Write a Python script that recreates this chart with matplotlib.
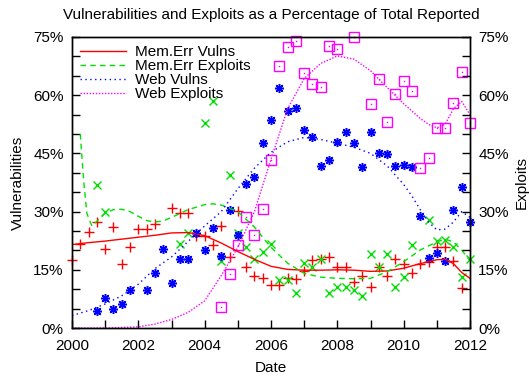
import numpy as np
import matplotlib
matplotlib.use('Agg')
import matplotlib.pyplot as plt
from matplotlib.ticker import MultipleLocator, FuncFormatter

plt.rcParams['font.family'] = ['Liberation Sans', 'DejaVu Sans']
plt.rcParams['font.size'] = 11

# quarterly sample dates (None = no point reported)
quarters = [2000.0, 2000.25, 2000.5, 2000.75, 2001.0, 2001.25, 2001.5, 2001.75,
            2002.0, 2002.25, 2002.5, 2002.75, 2003.0, 2003.25, 2003.5, 2003.75,
            2004.0, 2004.25, 2004.5, 2004.75, 2005.0, 2005.25, 2005.5, 2005.75,
            2006.0, 2006.25, 2006.5, 2006.75, 2007.0, 2007.25, 2007.5, 2007.75,
            2008.0, 2008.25, 2008.5, 2008.75, 2009.0, 2009.25, 2009.5, 2009.75,
            2010.0, 2010.25, 2010.5, 2010.75, 2011.0, 2011.25, 2011.5, 2011.75,
            2012.0]

mem_vulns = [17.4, 21.6, 24.8, 27.4, 20.4, 26.0, 16.5, 21.0,
             25.5, 25.5, 26.8, None, 30.8, 29.7, 29.7, 23.7,
             23.6, 21.4, 26.2, 18.3, 30.1, 15.6, 13.5, 12.9,
             11.1, 11.1, 13.0, 12.7, 14.8, 17.5, 17.7, 18.4,
             15.7, 15.8, 11.9, 13.4, 10.5, 15.8, 13.4, 17.7,
             16.5, 14.3, 16.5, 17.1, 20.8, 20.8, 17.3, 10.2,
             None]

mem_exploits = [None, None, None, 36.9, 29.8, None, None, None,
                None, None, None, None, None, 21.7, 24.4, None,
                52.8, 58.4, 17.3, 39.4, 24.5, 21.0, 17.8, 19.7,
                21.7, 12.5, 12.4, 9.1, 16.8, 15.8, 17.7, 9.1,
                10.5, 10.5, 9.8, 8.2, 19.2, 15.8, 19.2, 10.6,
                13.1, 21.4, None, 27.8, 22.5, 22.7, 20.8, 13.1,
                17.7]

web_vulns = [None, None, None, 4.4, 7.8, 4.9, 6.1, 9.8,
             None, 9.8, 14.3, 20.4, 11.7, 17.9, 17.9, 24.4,
             20.1, 25.7, 18.6, 30.4, 24.0, 37.0, 38.8, 47.6,
             53.6, 61.8, 55.9, 56.6, 51.0, 49.3, 41.8, 43.3,
             47.9, 50.6, 47.6, 41.4, 50.4, 45.1, 44.9, 41.8,
             42.0, 41.6, 28.9, 18.0, 19.4, 17.3, 30.4, 36.4,
             27.2]

web_exploits = [None, None, None, None, None, None, None, None,
                None, None, None, None, None, None, None, None,
                None, None, 5.5, 13.9, 21.4, 28.5, 24.0, 30.6,
                43.3, 67.4, 72.5, 74.0, 65.6, 62.8, 62.2, 72.8,
                71.8, None, 74.9, None, 57.7, 64.2, 53.2, 60.3,
                63.7, 61.2, 41.2, 43.7, 51.6, 51.6, 58.1, 66.1,
                52.8]

# smoothed trend curves
mem_vulns_fit_x = [2000, 2000.5, 2001, 2001.5, 2002, 2002.5, 2003, 2003.5, 2004,
                   2004.5, 2005, 2005.5, 2006, 2006.5, 2007, 2007.5, 2008, 2008.5,
                   2009, 2009.5, 2010, 2010.5, 2011, 2011.25, 2011.5, 2011.75, 2012]
mem_vulns_fit_y = [21.5, 22.0, 22.4, 22.9, 23.4, 23.9, 24.5, 24.6, 23.8,
                   21.9, 19.7, 17.7, 15.9, 15.1, 14.9, 14.9, 15.0, 14.9,
                   14.6, 14.7, 15.4, 16.6, 17.6, 17.7, 16.6, 14.3, 12.8]

mem_exp_fit_x = [2000.25, 2000.35, 2000.45, 2000.6, 2000.75, 2001, 2001.25, 2001.5,
                 2001.75, 2002, 2002.25, 2002.5, 2002.75, 2003, 2003.5, 2004, 2004.25,
                 2004.5, 2005, 2005.5, 2006, 2006.5, 2007, 2007.5, 2008, 2008.5,
                 2009, 2009.5, 2010, 2010.5, 2011, 2011.25, 2011.5, 2011.75, 2012]
mem_exp_fit_y = [50.0, 38.0, 29.5, 26.3, 27.5, 29.6, 30.5, 30.6,
                 30.0, 28.8, 27.7, 27.3, 27.6, 28.5, 30.5, 31.8, 32.0,
                 31.7, 30.0, 26.0, 20.8, 16.7, 14.1, 13.1, 12.8, 12.7,
                 12.8, 14.5, 17.1, 20.1, 22.2, 22.9, 22.2, 20.1, 17.3]

web_vulns_fit_x = [2000, 2000.5, 2001, 2001.5, 2002, 2002.5, 2003, 2003.5, 2004,
                   2004.5, 2005, 2005.5, 2006, 2006.5, 2007, 2007.5, 2008, 2008.5,
                   2009, 2009.5, 2010, 2010.25, 2010.5, 2010.75, 2011, 2011.25,
                   2011.5, 2011.75, 2012]
web_vulns_fit_y = [3.2, 4.5, 6.2, 8.3, 11.3, 15.3, 18.3, 22.3, 26.3,
                   30.0, 35.9, 41.2, 45.3, 48.0, 49.1, 48.6, 47.6, 46.6,
                   45.0, 41.8, 37.0, 34.0, 30.5, 27.3, 25.3, 25.5,
                   27.3, 30.0, 28.5]

web_exp_fit_x = [2000, 2001, 2002, 2002.5, 2003, 2003.5, 2004, 2004.5, 2005,
                 2005.5, 2006, 2006.25, 2006.5, 2007, 2007.5, 2008, 2008.5, 2009,
                 2009.5, 2010, 2010.5, 2010.75, 2011, 2011.25, 2011.5, 2011.75, 2012]
web_exp_fit_y = [0.0, 0.0, 0.3, 1.0, 2.2, 4.0, 7.0, 13.5, 20.8,
                 30.0, 43.5, 50.0, 56.5, 64.3, 68.2, 70.1, 69.3, 66.3,
                 62.0, 57.8, 54.0, 52.5, 51.6, 52.5, 56.5, 58.4, 55.0]


def points(vals):
    return np.array([np.nan if v is None else v for v in vals], dtype=float)


fig = plt.figure(figsize=(5.29, 3.77), dpi=100)
ax = fig.add_axes([72 / 529, 1 - 328 / 377, 398 / 529, 291 / 377])

x = np.array(quarters)
# scatter points
ax.plot(x, points(mem_vulns), ls='none', marker='+', ms=7, mew=1, color='#ff0000', clip_on=False)
ax.plot(x, points(mem_exploits), ls='none', marker='x', ms=6, mew=1, color='#00e000', clip_on=False)
ax.plot(x, points(web_vulns), ls='none', marker=(8, 2, 0), ms=6.5, mew=1.1, color='#0000ff', clip_on=False)
ax.plot(x, points(web_exploits), ls='none', marker='s', ms=6.5, mew=1, mfc='none', color='#ff00ff', clip_on=False)
ax.plot(x, points(web_exploits), ls='none', marker='s', ms=1, mew=0, color='#ff00ff', clip_on=False)

# trend curves
ax.plot(mem_vulns_fit_x, mem_vulns_fit_y, color='#ff0000', lw=1, label='Mem.Err Vulns')
ax.plot(mem_exp_fit_x, mem_exp_fit_y, color='#00e000', lw=1, dashes=(4, 3), label='Mem.Err Exploits')
ax.plot(web_vulns_fit_x, web_vulns_fit_y, color='#0000ff', lw=1, dashes=(1, 2.5), label='Web Vulns')
ax.plot(web_exp_fit_x, web_exp_fit_y, color='#ff00ff', lw=1, dashes=(1, 1.2), label='Web Exploits')

ax.set_xlim(2000, 2012)
ax.set_ylim(0, 75)
ax.xaxis.set_major_locator(MultipleLocator(2))
ax.xaxis.set_minor_locator(MultipleLocator(1))
ax.yaxis.set_major_locator(MultipleLocator(15))
ax.yaxis.set_minor_locator(MultipleLocator(5))
pct = FuncFormatter(lambda v, p: '%d%%' % round(v))
ax.yaxis.set_major_formatter(pct)
ax.xaxis.set_major_formatter(FuncFormatter(lambda v, p: '%d' % round(v)))
ax.tick_params(which='both', direction='in', top=False, right=False, width=1, length=6)
ax.tick_params(axis='x', which='major', pad=8)
ax.tick_params(axis='y', which='major', pad=6)

ax2 = ax.twinx()
ax2.set_ylim(0, 75)
ax2.yaxis.set_major_locator(MultipleLocator(15))
ax2.yaxis.set_minor_locator(MultipleLocator(5))
ax2.yaxis.set_major_formatter(pct)
ax2.tick_params(which='both', direction='in', length=6, width=1, pad=6)

for a in (ax, ax2):
    for s in a.spines.values():
        s.set_linewidth(1)

ax.set_title('Vulnerabilities and Exploits as a Percentage of Total Reported',
             fontsize=11, pad=13)
ax.set_xlabel('Date', labelpad=6)
ax.set_ylabel('Vulnerabilities', labelpad=6)
ax2.set_ylabel('Exploits', labelpad=4)

ax.legend(loc='upper left', frameon=False, handlelength=3.0, handletextpad=0.55,
          labelspacing=0.0, borderaxespad=0.3, borderpad=0.25)

fig.savefig('out.png', dpi=100)
